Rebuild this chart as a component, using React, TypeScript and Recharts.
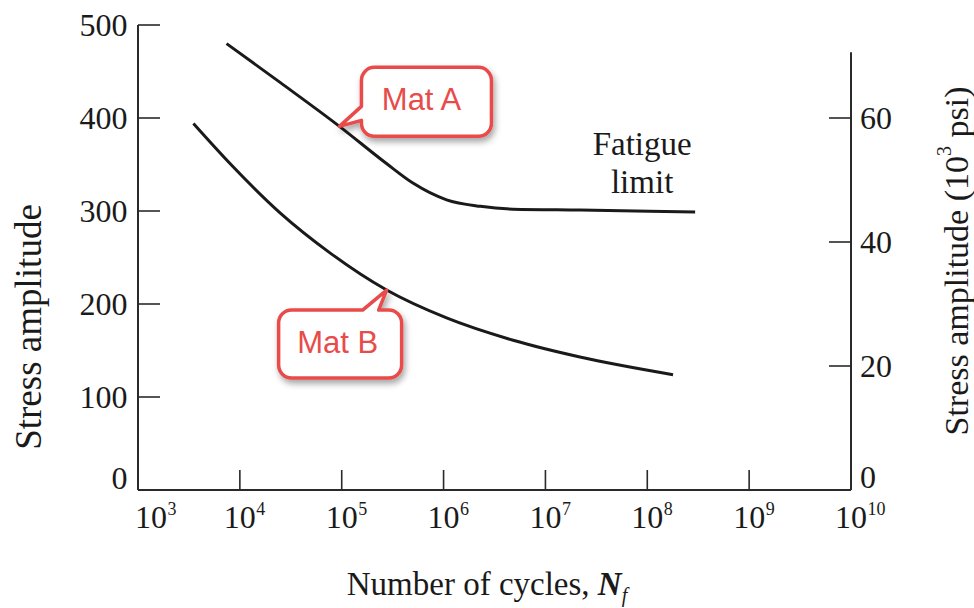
import React from 'react';
import { LineChart, Line, XAxis, YAxis, ReferenceDot, ReferenceLine } from 'recharts';

// ---- data ----
const cyclesA = [7.4e3, 2.5e4, 9.5e4, 2.75e5, 5.0e5, 1.07e6, 2.3e6, 4.8e6, 2.2e7, 2.95e8];
const stressA = [480, 438, 391, 351, 330, 312, 305, 302, 301, 299];
const cyclesB = [3.5e3, 8.0e3, 2.48e4, 7.66e4, 2.76e5, 1.07e6, 4.82e6, 2.18e7, 1.79e8];
const stressB = [394, 351, 298, 255, 215, 185, 161, 143, 124];
const xTicks = [1e3, 1e4, 1e5, 1e6, 1e7, 1e8, 1e9, 1e10];
const mpaTicks = [0, 100, 200, 300, 400, 500];
const ksiTicks = [0, 20, 40, 60];
const ksiDomainTop = 75;
const ksiAxisTop = 70.6;
const calloutA = { n: 9.5e4, s: 391, text: 'Mat A' };
const calloutB = { n: 2.76e5, s: 215, text: 'Mat B' };
const fatigueLines = ['Fatigue', 'limit'];
const xTitle = 'Number of cycles, ';
const leftTitle = 'Stress amplitude';
const rightTitle = 'Stress amplitude (10';

const dataA = cyclesA.map((n, i) => ({ n, s: stressA[i] }));
const dataB = cyclesB.map((n, i) => ({ n, s: stressB[i] }));

// ---- styles ----
const SERIF = '"Liberation Serif", "Times New Roman", serif';
const SANS = '"Liberation Sans", Arial, sans-serif';
const INK = '#1a1a1a';
const AXIS = '#2a2a2a';
const RED = '#E84C4A';

const W = 974;
const H = 608;
const M = { top: 25, right: 0, bottom: 0, left: 0 };
const LEFT_W = 138;
const RIGHT_W = 123;
const XAXIS_H = 118;

const XTick = (props: any) => {
  const { x, y, payload } = props;
  const exp = Math.round(Math.log10(payload.value));
  const dx = exp === 3 ? 13 : 0;
  return (
    <g>
      {exp !== 3 && exp !== 10 && (
        <line x1={x} x2={x} y1={y} y2={y - 20} stroke={AXIS} strokeWidth={1.6} />
      )}
      <text x={x + dx} y={y + 38} textAnchor="middle" fontFamily={SERIF} fontSize={32} fill={INK}>
        10
      </text>
      <text x={x + dx + 16.5} y={y + 25} textAnchor="start" fontFamily={SERIF} fontSize={18} fill={INK}>
        {exp}
      </text>
    </g>
  );
};

const LeftTick = (props: any) => {
  const { x, y, payload } = props;
  const up = payload.value === 0 ? -12 : 0;
  return (
    <g>
      {payload.value !== 0 && <line x1={x} x2={x + 22} y1={y} y2={y} stroke={AXIS} strokeWidth={1.6} />}
      <text x={x - 10.5} y={y + 11 + up} textAnchor="end" fontFamily={SERIF} fontSize={32} fill={INK}>
        {payload.value}
      </text>
    </g>
  );
};

const RightTick = (props: any) => {
  const { x, y, payload } = props;
  const up = payload.value === 0 ? -13 : 0;
  return (
    <g>
      {payload.value !== 0 && <line x1={x - 22} x2={x} y1={y} y2={y} stroke={AXIS} strokeWidth={1.6} />}
      <text x={x + 9} y={y + 11 + up} textAnchor="start" fontFamily={SERIF} fontSize={32} fill={INK}>
        {payload.value}
      </text>
    </g>
  );
};

const LeftTitle = (p: any) => {
  const vb = (p && p.viewBox) || { x: 0, y: M.top, width: LEFT_W, height: 465 };
  const cx = vb.x + 28;
  const cy = vb.y + 302;
  return (
    <text
      x={cx}
      y={cy}
      transform={`rotate(-90 ${cx} ${cy})`}
      textAnchor="middle"
      dominantBaseline="central"
      fontFamily={SERIF}
      fontSize={37}
      fill={INK}
    >
      {leftTitle}
    </text>
  );
};

const RightTitle = (p: any) => {
  const vb = (p && p.viewBox) || { x: W - RIGHT_W, y: M.top, width: RIGHT_W, height: 465 };
  const cx = vb.x + 105;
  const cy = vb.y + 236;
  return (
    <text
      x={cx}
      y={cy}
      transform={`rotate(-90 ${cx} ${cy})`}
      textAnchor="middle"
      dominantBaseline="central"
      fontFamily={SERIF}
      fontSize={34}
      fill={INK}
    >
      {rightTitle}
      <tspan fontSize={20} dy={-12}>3</tspan>
      <tspan dy={12}> psi)</tspan>
    </text>
  );
};

const XTitle = (p: any) => {
  const vb = (p && p.viewBox) || { x: LEFT_W, y: 490, width: 713, height: XAXIS_H };
  const cx = vb.x + vb.width / 2 - 7.5;
  const by = vb.y + 105;
  return (
    <text x={cx} y={by} textAnchor="middle" fontFamily={SERIF} fontSize={33} fill={INK}>
      {xTitle}
      <tspan fontStyle="italic" fontWeight="bold">N</tspan>
      <tspan fontStyle="italic" fontSize={20} dy={7}>f</tspan>
    </text>
  );
};

const shadowFilter = (id: string) => (
  <defs>
    <filter id={id} x="-30%" y="-30%" width="160%" height="170%">
      <feDropShadow dx="2" dy="4" stdDeviation="3" floodColor="#000" floodOpacity="0.35" />
    </filter>
  </defs>
);

const CalloutA = (props: any) => {
  const { cx, cy } = props;
  if (cx == null || cy == null) return null;
  const L = 22, T = -59, R = 152, B = 10, r = 13;
  const d = [
    `M ${L + r} ${T}`,
    `H ${R - r}`,
    `A ${r} ${r} 0 0 1 ${R} ${T + r}`,
    `V ${B - r}`,
    `A ${r} ${r} 0 0 1 ${R - r} ${B}`,
    `H ${L + r}`,
    `A ${r} ${r} 0 0 1 ${L} ${B - r}`,
    `V -6`,
    `L 0 0`,
    `L ${L} -20`,
    `V ${T + r}`,
    `A ${r} ${r} 0 0 1 ${L + r} ${T}`,
    'Z',
  ].join(' ');
  return (
    <g transform={`translate(${cx} ${cy})`}>
      {shadowFilter('shA')}
      <path d={d} fill="#fff" stroke={RED} strokeWidth={3.5} strokeLinejoin="round" filter="url(#shA)" />
      <text x={82} y={-27} textAnchor="middle" dominantBaseline="central" fontFamily={SANS} fontSize={31} fill={RED}>
        {calloutA.text}
      </text>
    </g>
  );
};

const CalloutB = (props: any) => {
  const { cx, cy } = props;
  if (cx == null || cy == null) return null;
  const L = -108, T = 20, R = 15, B = 88, r = 13;
  const d = [
    `M ${L + r} ${T}`,
    `H -24`,
    `L 0 0`,
    `L -8 ${T}`,
    `H ${R - r}`,
    `A ${r} ${r} 0 0 1 ${R} ${T + r}`,
    `V ${B - r}`,
    `A ${r} ${r} 0 0 1 ${R - r} ${B}`,
    `H ${L + r}`,
    `A ${r} ${r} 0 0 1 ${L} ${B - r}`,
    `V ${T + r}`,
    `A ${r} ${r} 0 0 1 ${L + r} ${T}`,
    'Z',
  ].join(' ');
  return (
    <g transform={`translate(${cx} ${cy})`}>
      {shadowFilter('shB')}
      <path d={d} fill="#fff" stroke={RED} strokeWidth={3.5} strokeLinejoin="round" filter="url(#shB)" />
      <text x={-49} y={52} textAnchor="middle" dominantBaseline="central" fontFamily={SANS} fontSize={31} fill={RED}>
        {calloutB.text}
      </text>
    </g>
  );
};

const FatigueText = (props: any) => {
  const { cx, cy } = props;
  if (cx == null || cy == null) return null;
  return (
    <g>
      <text x={cx - 53} y={cy - 57} textAnchor="middle" fontFamily={SERIF} fontSize={33} fill={INK}>
        {fatigueLines[0]}
      </text>
      <text x={cx - 53} y={cy - 19} textAnchor="middle" fontFamily={SERIF} fontSize={33} fill={INK}>
        {fatigueLines[1]}
      </text>
    </g>
  );
};

export default function App() {
  const lastA = dataA[dataA.length - 1];
  return (
    <div style={{ position: 'absolute', left: 0, top: 0, width: W, height: H, background: '#fff' }}>
      <LineChart width={W} height={H} margin={M}>
        <XAxis
          xAxisId={0}
          dataKey="n"
          type="number"
          scale="log"
          domain={[1e3, 1e10]}
          ticks={xTicks}
          interval={0}
          allowDataOverflow
          height={XAXIS_H}
          tickSize={0}
          tickMargin={0}
          tickLine={false}
          axisLine={{ stroke: AXIS, strokeWidth: 2 }}
          tick={<XTick />}
          label={{ content: (p: any) => <XTitle {...p} /> }}
        />
        <YAxis
          yAxisId="left"
          orientation="left"
          type="number"
          domain={[0, 500]}
          ticks={mpaTicks}
          interval={0}
          allowDataOverflow
          width={LEFT_W}
          tickSize={0}
          tickMargin={0}
          tickLine={false}
          axisLine={{ stroke: AXIS, strokeWidth: 2 }}
          tick={<LeftTick />}
          label={{ content: (p: any) => <LeftTitle {...p} /> }}
        />
        <YAxis
          yAxisId="right"
          orientation="right"
          type="number"
          domain={[0, ksiDomainTop]}
          ticks={ksiTicks}
          interval={0}
          allowDataOverflow
          width={RIGHT_W}
          tickSize={0}
          tickMargin={0}
          tickLine={false}
          axisLine={false}
          tick={<RightTick />}
          label={{ content: (p: any) => <RightTitle {...p} /> }}
        />
        <ReferenceLine
          yAxisId="right"
          xAxisId={0}
          segment={[{ x: 1e10, y: 0 }, { x: 1e10, y: ksiAxisTop }]}
          stroke={AXIS}
          strokeWidth={2}
          ifOverflow="visible"
        />
        <Line
          data={dataA}
          dataKey="s"
          yAxisId="left"
          xAxisId={0}
          type="monotone"
          stroke={INK}
          strokeWidth={3}
          dot={false}
          activeDot={false}
          isAnimationActive={false}
        />
        <Line
          data={dataB}
          dataKey="s"
          yAxisId="left"
          xAxisId={0}
          type="monotone"
          stroke={INK}
          strokeWidth={3}
          dot={false}
          activeDot={false}
          isAnimationActive={false}
        />
        <ReferenceDot
          yAxisId="left"
          xAxisId={0}
          x={lastA.n}
          y={lastA.s}
          r={0}
          shape={(p: any) => <FatigueText {...p} />}
        />
        <ReferenceDot
          yAxisId="left"
          xAxisId={0}
          x={calloutA.n}
          y={calloutA.s}
          r={0}
          shape={(p: any) => <CalloutA {...p} />}
        />
        <ReferenceDot
          yAxisId="left"
          xAxisId={0}
          x={calloutB.n}
          y={calloutB.s}
          r={0}
          shape={(p: any) => <CalloutB {...p} />}
        />
      </LineChart>
    </div>
  );
}
